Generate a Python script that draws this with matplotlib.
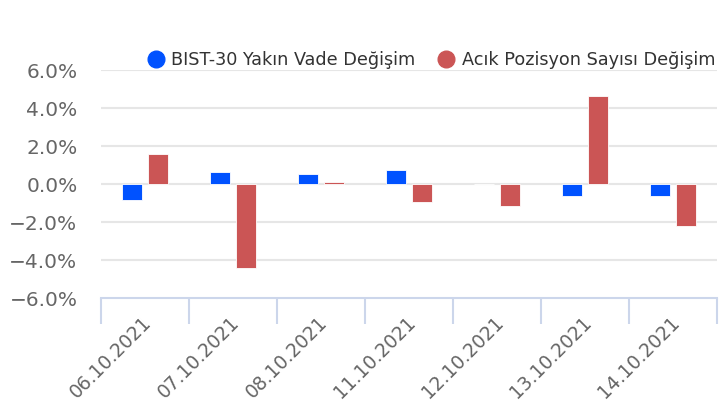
import numpy as np
import matplotlib
matplotlib.use("Agg")
import matplotlib.pyplot as plt
from matplotlib.lines import Line2D

plt.rcParams["font.family"] = "DejaVu Sans"

dates = ["06.10.2021", "07.10.2021", "08.10.2021", "11.10.2021",
         "12.10.2021", "13.10.2021", "14.10.2021"]
bist30 = [-0.83, 0.64, 0.55, 0.75, 0.0, -0.62, -0.62]
acik_poz = [1.6, -4.4, 0.12, -0.95, -1.15, 4.64, -2.2]
yticks = [-6, -4, -2, 0, 2, 4, 6]

BLUE = "#0052ff"
RED = "#cb5555"

fig = plt.figure(figsize=(7.19, 4.05), dpi=100)
ax = fig.add_axes([101 / 719, 1 - 298 / 405, 616 / 719, (298 - 70) / 405])

x = np.arange(len(dates))
w = 0.235
ax.bar(x - 0.148, bist30, width=w, color=BLUE, edgecolor="white", linewidth=0.6, zorder=3)
ax.bar(x + 0.148, acik_poz, width=w, color=RED, edgecolor="white", linewidth=0.6, zorder=3)

ax.set_xlim(-0.5, len(dates) - 0.5)
ax.set_ylim(-6, 6)
ax.set_yticks(yticks)
ax.set_yticklabels([f"{v:.1f}%".replace("-", "\u2212") for v in yticks],
                   fontsize=14.5, color="#666666")
for v in yticks[1:]:
    ax.axhline(v, color="#e6e6e6", linewidth=1.5, zorder=1)

# category ticks at boundaries, labels at centres
ax.set_xticks(np.arange(len(dates) + 1) - 0.5)
ax.set_xticklabels([])
ax.set_xticks(x - 0.04, minor=True)
ax.set_xticklabels(dates, minor=True, rotation=45, ha="right", va="top",
                   rotation_mode="anchor", fontsize=13.5, color="#666666")
ax.tick_params(axis="x", which="major", length=19, width=1.5, color="#ccd6eb")
ax.tick_params(axis="x", which="minor", length=0, pad=11)
ax.tick_params(axis="y", length=0, pad=17)

for s in ["top", "right", "left"]:
    ax.spines[s].set_visible(False)
ax.spines["bottom"].set_color("#ccd6eb")
ax.spines["bottom"].set_linewidth(1.5)

handles = [
    Line2D([], [], marker="o", linestyle="", markersize=12, color=BLUE),
    Line2D([], [], marker="o", linestyle="", markersize=12, color=RED),
]
fig.legend(handles, ["BIST-30 Yakın Vade Değişim", "Acık Pozisyon Sayısı Değişim"],
           loc="center", bbox_to_anchor=(430 / 719, 1 - 60 / 405), ncol=2,
           frameon=False, fontsize=12.7, labelcolor="#333333",
           handletextpad=0.3, columnspacing=1.1, handlelength=1.2)

fig.savefig("out.png", dpi=100)
